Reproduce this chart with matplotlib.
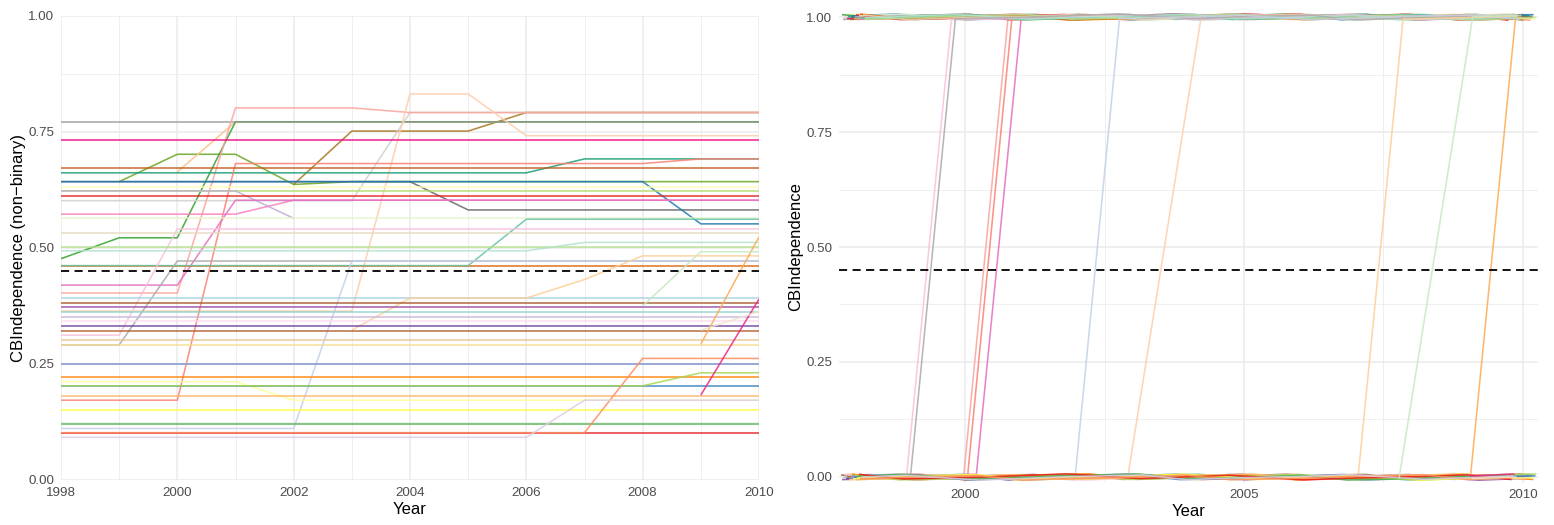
import numpy as np
import matplotlib
matplotlib.use('Agg')
from matplotlib import pyplot as plt
from matplotlib.ticker import MultipleLocator, FormatStrFormatter

plt.rcParams['font.family'] = ['Liberation Sans', 'DejaVu Sans']

n = np.nan
years = list(range(1998, 2011))
threshold = 0.45

# CBI (non-binary) per country, 1998..2010
green_dark2 = [n, .643, .702, .702, .637, .643, .643, .643, .643, .643, .643, .643, .643]
brown_dark2 = [n, n, n, n, .637, .752, .752, .752, .792, .792, .792, .792, .792]
peach_accent = [n, n, .664] + [.772] * 10
green_paired = [.477, .522, .522] + [.772] * 10
gray_77 = [.772] * 13
gray_light = [.602] * 6 + [.792] * 7
salmon_light = [.403, .403, .403, .802, .802, .802] + [.792] * 7
peach_pastel = [.364] * 6 + [.832, .832] + [.742] * 5
hot_pink = [.732] * 13
teal_dark2 = [.662] * 9 + [.692] * 4
salmon_set3 = [.172] * 3 + [.682] * 8 + [.692] * 2
brown_accent = [.672] * 13
gray_dark2 = [.643] * 7 + [.582] * 6
blue_paired = [.643] * 11 + [.552] * 2
yellow_set3 = [.632] * 13
green_set3 = [.623] * 13
lavender_accent = [.623] * 4 + [.564] + [n] * 8
red_set1 = [.612] * 13
pink_set1 = [.573] * 4 + [.603] * 9
orchid_set2 = [.42] * 3 + [.603] * 10
green_pastel2 = [.564] * 13
orange_dark2 = [.462] * 13
teal_set2 = [.462] * 8 + [.562] * 5
pink_set3 = [.312] * 2 + [.541] * 11
beige_pastel1 = [.532] * 13
green_light_paired = [.502] * 13
mint_pastel2 = [.494] * 9 + [.512] * 4
gray_set2 = [.291] * 2 + [.472] * 11
blue_pastel2 = [.111] * 5 + [.472] * 8
blue_light_paired = [.392] * 13
orange_pastel1 = [n] * 5 + [.323, .392, .392, .392, .432, .483, .483, .483]
brown_set1 = [.382] * 13
purple_set1 = [.372] * 13
teal_set3 = [.363] * 13
lavender_paired = [.352] * 13
pink_pastel1 = [.343] * 13
purple_paired = [.332] * 13
brown_paired = [.322] * 13
tan_set2 = [.302] * 13
yellow_set3b = [.291] * 13
blue_set2 = [.251] * 13
lilac_set3 = [.251] * 13
orange_paired = [.222] * 13
yellow_paired = [.212] * 4 + [.172] * 9
blue_set1 = [.203] * 13
green_set2 = [.203] * 11 + [.231] * 2
orange_set3 = [.182] * 13
yellow_set1 = [.151] * 13
green_set1 = [.121] * 13
red_paired = [.102] * 13
coral_set2 = [.102] * 10 + [.262] * 3
lavender_pastel1 = [.092] * 9 + [.172] * 4
magenta_dark2 = [n] * 11 + [.183, .39]
orange_paired2 = [n] * 11 + [.293, .524]
tan_pastel2 = [n] * 11 + [.323, .363]
green_pastel1 = [n] * 10 + [.375, .492, .492]

# drawing order (first drawn = bottom) and colours
series = [
    (green_dark2, '#66A61E'), (brown_dark2, '#A6761D'), (peach_accent, '#FDC086'),
    (green_paired, '#33A02C'), (gray_77, '#999999'), (gray_light, '#D0D0D0'),
    (salmon_light, '#FBA49C'), (peach_pastel, '#FDCDAC'), (hot_pink, '#F0027F'),
    (teal_dark2, '#1B9E77'), (salmon_set3, '#FB8072'), (brown_accent, '#BF5B17'),
    (gray_dark2, '#666666'), (blue_paired, '#1F78B4'), (yellow_set3, '#FFFFB3'),
    (green_set3, '#B3DE69'), (lavender_accent, '#BEAED4'), (red_set1, '#E41A1C'),
    (pink_set1, '#F781BF'), (orchid_set2, '#E36FC0'), (green_pastel2, '#E6F5C9'),
    (orange_dark2, '#D95F02'), (teal_set2, '#66C2A5'), (pink_set3, '#F9C0DF'),
    (beige_pastel1, '#E5D8BD'), (green_light_paired, '#B2DF8A'), (mint_pastel2, '#B3E2CD'),
    (gray_set2, '#AAAAAA'), (blue_pastel2, '#C3D0EA'), (blue_light_paired, '#A6CEE3'),
    (orange_pastel1, '#FDCF98'), (brown_set1, '#A65628'), (purple_set1, '#984EA3'),
    (teal_set3, '#8DD3C7'), (lavender_paired, '#CAB2D6'), (pink_pastel1, '#FDDAEC'),
    (purple_paired, '#6A3D9A'), (brown_paired, '#B15928'), (tan_set2, '#E5C494'),
    (yellow_set3b, '#F6DC8A'), (blue_set2, '#8DA0CB'), (lilac_set3, '#92A4D6'),
    (orange_paired, '#FF7F00'), (yellow_paired, '#FFFF99'), (blue_set1, '#377EB8'),
    (green_set2, '#A6D854'), (orange_set3, '#FDB462'), (yellow_set1, '#FFFF33'),
    (green_set1, '#4DAF4A'), (red_paired, '#E31A1C'), (coral_set2, '#FC8D62'),
    (lavender_pastel1, '#DECBE4'), (magenta_dark2, '#E7298A'), (orange_paired2, '#FDAA55'),
    (tan_pastel2, '#F1E2CC'), (green_pastel1, '#C7E9C0'),
]

LW = 1.15
ALPHA = 0.85
GRID = '#EBEBEB'


def style(ax):
    for s in ax.spines.values():
        s.set_visible(False)
    ax.set_axisbelow(True)
    ax.grid(True, which='major', color=GRID, lw=1.1)
    ax.grid(True, which='minor', color=GRID, lw=0.55)
    ax.tick_params(which='both', length=0, labelsize=9.6, labelcolor='#4D4D4D', pad=5)
    ax.yaxis.set_major_locator(MultipleLocator(0.25))
    ax.yaxis.set_minor_locator(MultipleLocator(0.125))
    ax.yaxis.set_major_formatter(FormatStrFormatter('%.2f'))


fig = plt.figure(figsize=(15.54, 5.25), dpi=100)

# left panel: non-binary
ax1 = fig.add_axes([61 / 1554, 45 / 525, 698 / 1554, 464 / 525])
x = np.array(years, dtype=float)
for vals, col in series:
    ax1.plot(x, vals, color=col, lw=LW, alpha=ALPHA, solid_capstyle='butt')
ax1.axhline(threshold, color='black', lw=1.3, ls=(0, (4.5, 3)))
ax1.set_xlim(1998, 2010)
ax1.set_ylim(0, 1)
ax1.xaxis.set_major_locator(MultipleLocator(2))
ax1.xaxis.set_minor_locator(MultipleLocator(1))
style(ax1)
ax1.set_xlabel('Year', fontsize=12, labelpad=2)
ax1.set_ylabel('CBIndependence (non\u2212binary)', fontsize=12)
ax1.yaxis.set_label_coords(-0.050, 0.5)

# right panel: binary (thresholded), drawn with jitter
ax2 = fig.add_axes([839 / 1554, 42.5 / 525, 699 / 1554, 471 / 525])
phi = 0.6180339887
for i, (vals, col) in enumerate(series):
    v = np.array(vals, dtype=float)
    b = np.where(np.isnan(v), np.nan, (v >= threshold).astype(float))
    k = np.arange(len(years))
    jx = 0.26 * (2 * (((i * 13 + k) * phi) % 1) - 1)
    jy = 0.007 * (2 * (((i * 7 + k * 3) * 0.7548776662) % 1) - 1)
    ax2.plot(x + jx, b + jy, color=col, lw=LW, alpha=ALPHA, solid_capstyle='butt')
ax2.axhline(threshold, color='black', lw=1.3, ls=(0, (4.5, 3)))
ax2.set_xlim(1997.74, 2010.27)
ax2.set_ylim(-0.012, 1.012)
ax2.xaxis.set_major_locator(MultipleLocator(5))
ax2.xaxis.set_minor_locator(MultipleLocator(2.5))
style(ax2)
ax2.set_xlabel('Year', fontsize=12, labelpad=2)
ax2.set_ylabel('CBIndependence', fontsize=12)
ax2.yaxis.set_label_coords(-0.0515, 0.5)

fig.savefig('out.png', dpi=100)
